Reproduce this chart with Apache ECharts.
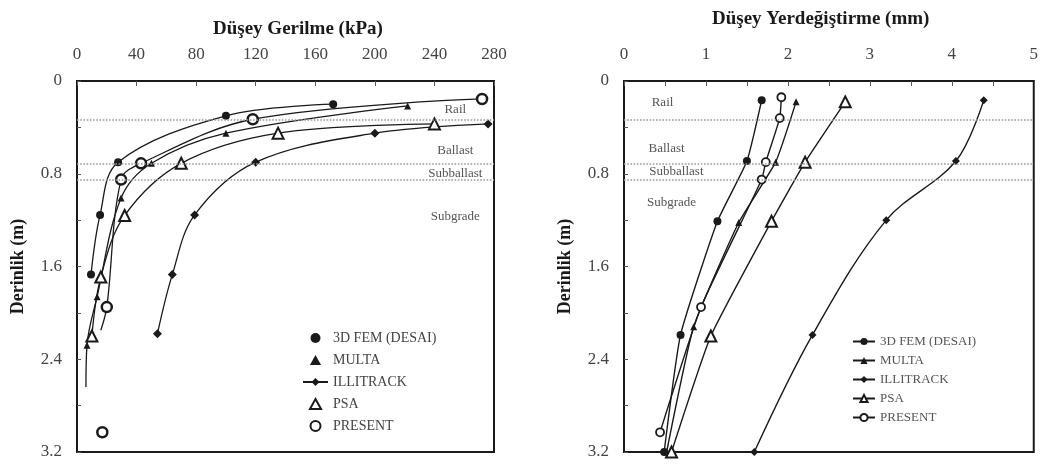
<!DOCTYPE html>
<html>
<head>
<meta charset="utf-8">
<script src="https://cdn.jsdelivr.net/npm/echarts@6/dist/echarts.min.js"></script>
<style>
html,body{margin:0;padding:0;background:#fff;}
#left{position:absolute;left:0;top:0;width:540px;height:465px;}
#right{position:absolute;left:540px;top:0;width:501px;height:465px;}
</style>
</head>
<body>
<div id="left"></div>
<div id="right"></div>
<script>
// ---------- data: left chart (vertical stress, kPa vs depth, m) ----------
var seriesNames = ['3D FEM (DESAI)', 'MULTA', 'ILLITRACK', 'PSA', 'PRESENT'];
var femStress = [[172, 0.20], [100, 0.30], [27.6, 0.70], [15.5, 1.155], [9.4, 1.67]];
var multaStress = [[222, 0.215], [100, 0.45], [50, 0.71], [29.6, 1.01], [13.5, 1.86], [6.7, 2.28]];
var multaStressTail = [6, 2.64];
var illiStress = [[276, 0.37], [200, 0.45], [120, 0.70], [79, 1.155], [64, 1.67], [54, 2.18]];
var psaStress = [[240, 0.37], [135, 0.45], [70, 0.71], [32, 1.16], [16, 1.69], [10, 2.20]];
var presentStress = [[272, 0.155], [118, 0.33], [43, 0.71], [29.6, 0.85], [20, 1.95]];
var presentStressTail = [16, 2.15];
var presentStressIsolated = [17, 3.03];

// ---------- data: right chart (vertical displacement, mm vs depth, m) ----------
var femDisp = [[1.68, 0.165], [1.50, 0.69], [1.14, 1.21], [0.69, 2.19], [0.49, 3.2]];
var multaDisp = [[2.10, 0.18], [1.85, 0.70], [1.40, 1.22], [0.85, 2.12], [0.52, 3.2]];
var illiDisp = [[4.39, 0.165], [4.05, 0.69], [3.20, 1.20], [2.30, 2.19], [1.59, 3.2]];
var psaDisp = [[2.70, 0.18], [2.21, 0.70], [1.80, 1.21], [1.06, 2.20], [0.58, 3.2]];
var presentDisp = [[1.92, 0.14], [1.90, 0.32], [1.73, 0.70], [1.68, 0.85], [0.94, 1.95], [0.44, 3.03]];

// ---------- layers ----------
var layerBoundaries = [0.33, 0.71, 0.85];
var layerNames = ['Rail', 'Ballast', 'Subballast', 'Subgrade'];
var layerLabelDepthsLeft = [0.25, 0.60, 0.80, 1.17];
var layerLabelXLeft = 254;
var layerLabelDepthsRight = [0.19, 0.58, 0.78, 1.05];
var layerLabelXRight = [0.47, 0.52, 0.64, 0.58];

// ---------- axes ----------
var stressTicks = {min: 0, max: 280, interval: 40};
var dispTicks = {min: 0, max: 5, interval: 1};
var depthTicks = {min: 0, max: 3.2, interval: 0.4};

var FONT = '"Liberation Serif", "Times New Roman", serif';
var INK = '#1a1a1a';
var TRI = 'path://M5,0L10,9L0,9Z';

function depthLabel(v) {
  var k = Math.round(v / 0.4);
  if (k % 2 !== 0) return '';
  return v === 0 ? '0' : (Math.round(v * 10) / 10).toFixed(1);
}

function yAxisCfg() {
  return {
    type: 'value', inverse: true,
    min: depthTicks.min, max: depthTicks.max, interval: depthTicks.interval,
    name: 'Derinlik (m)', nameLocation: 'middle', nameRotate: 90, nameGap: 50,
    nameTextStyle: {fontFamily: FONT, fontWeight: 'bold', fontSize: 18, color: INK},
    axisLine: {show: true, lineStyle: {color: INK, width: 2}},
    axisTick: {show: true, inside: true, length: 4, lineStyle: {color: '#555'}},
    axisLabel: {formatter: depthLabel, fontFamily: FONT, fontSize: 17, color: '#444', margin: 15},
    splitLine: {show: false}
  };
}

function openStyle(bw) { return {color: '#fff', borderColor: INK, borderWidth: bw}; }
function fillStyle() { return {color: INK, borderColor: INK, borderWidth: 0}; }

function layerSeries(labelPts) {
  return {
    type: 'line', name: '_layers', data: [], silent: true,
    markLine: {
      silent: true, symbol: 'none',
      lineStyle: {color: '#9a9a9a', type: 'dotted', width: 1.6},
      label: {show: false},
      data: layerBoundaries.map(function (d) { return {yAxis: d}; })
    },
    markPoint: {
      silent: true, symbol: 'circle', symbolSize: 1,
      itemStyle: {color: 'rgba(0,0,0,0)'},
      label: {show: true, position: 'inside', formatter: '{b}', fontFamily: FONT, fontSize: 13, color: '#555'},
      data: labelPts
    }
  };
}

// ================= LEFT CHART =================
var left = echarts.init(document.getElementById('left'), null, {renderer: 'canvas'});
var leftLabelPts = layerNames.map(function (n, i) {
  return {name: n, coord: [layerLabelXLeft, layerLabelDepthsLeft[i]]};
});
var lineL = {color: INK, width: 1.3};
var SM = 0.35;
left.setOption({
  animation: false,
  title: {text: 'Düşey Gerilme (kPa)', left: 208, top: 15,
    textStyle: {fontFamily: FONT, fontWeight: 'bold', fontSize: 19, color: INK}},
  grid: {left: 77, right: 46, top: 81, bottom: 13, show: true, borderColor: INK, borderWidth: 2},
  xAxis: {
    type: 'value', position: 'top',
    min: stressTicks.min, max: stressTicks.max, interval: stressTicks.interval,
    axisLine: {show: true, lineStyle: {color: INK, width: 2}},
    axisTick: {show: true, inside: true, length: 5, lineStyle: {color: '#555'}},
    axisLabel: {fontFamily: FONT, fontSize: 17, color: '#444', margin: 18},
    splitLine: {show: false}
  },
  yAxis: yAxisCfg(),
  legend: {
    orient: 'vertical', left: 297, top: 326, itemGap: 8, itemWidth: 25, itemHeight: 10,
    symbolKeepAspect: true,
    textStyle: {fontFamily: FONT, fontSize: 14, color: '#444'},
    data: [
      {name: seriesNames[0], icon: 'circle'},
      {name: seriesNames[1], icon: TRI},
      {name: seriesNames[2]},
      {name: seriesNames[3], icon: TRI},
      {name: seriesNames[4], icon: 'circle'}
    ]
  },
  series: [
    layerSeries(leftLabelPts),
    {name: seriesNames[0], type: 'line', smooth: SM, data: femStress,
      symbol: 'circle', symbolSize: 8, itemStyle: fillStyle(), lineStyle: lineL},
    {name: seriesNames[1], type: 'line', smooth: SM,
      data: multaStress.concat([{value: multaStressTail, symbol: 'none'}]),
      symbol: 'triangle', symbolSize: 7, itemStyle: fillStyle(), lineStyle: lineL},
    {name: seriesNames[2], type: 'line', smooth: SM, data: illiStress,
      symbol: 'diamond', symbolSize: 9, itemStyle: fillStyle(), lineStyle: lineL},
    {name: seriesNames[3], type: 'line', smooth: SM, data: psaStress,
      symbol: 'triangle', symbolSize: 11, itemStyle: openStyle(2), lineStyle: lineL},
    {name: seriesNames[4], type: 'line', smooth: SM, connectNulls: false,
      data: presentStress.concat([{value: presentStressTail, symbol: 'none'}, '-', presentStressIsolated]),
      symbol: 'circle', symbolSize: 10, itemStyle: openStyle(2.5), lineStyle: lineL}
  ]
});

// ================= RIGHT CHART =================
var right = echarts.init(document.getElementById('right'), null, {renderer: 'canvas'});
var rightLabelPts = layerNames.map(function (n, i) {
  return {name: n, coord: [layerLabelXRight[i], layerLabelDepthsRight[i]]};
});
var lineR = {color: INK, width: 1.4};
right.setOption({
  animation: false,
  title: {text: 'Düşey Yerdeğiştirme (mm)', left: 167, top: 5,
    textStyle: {fontFamily: FONT, fontWeight: 'bold', fontSize: 19, color: INK}},
  grid: {left: 84, right: 5, top: 81, bottom: 13, show: true, borderColor: INK, borderWidth: 2},
  xAxis: {
    type: 'value', position: 'top',
    min: dispTicks.min, max: dispTicks.max, interval: dispTicks.interval,
    axisLine: {show: true, lineStyle: {color: INK, width: 2}},
    axisTick: {show: true, inside: true, length: 5, lineStyle: {color: '#555'}},
    minorTick: {show: true, splitNumber: 2, length: 5, lineStyle: {color: '#555'}},
    axisLabel: {fontFamily: FONT, fontSize: 17, color: '#444', margin: 18},
    splitLine: {show: false}
  },
  yAxis: yAxisCfg(),
  legend: {
    orient: 'vertical', left: 307, top: 330, itemGap: 6, itemWidth: 22, itemHeight: 9,
    textStyle: {fontFamily: FONT, fontSize: 13, color: '#555'},
    data: seriesNames
  },
  series: [
    layerSeries(rightLabelPts),
    {name: seriesNames[0], type: 'line', smooth: 0.15, data: femDisp,
      symbol: 'circle', symbolSize: 8, itemStyle: fillStyle(), lineStyle: lineR},
    {name: seriesNames[1], type: 'line', smooth: 0.15, data: multaDisp,
      symbol: 'triangle', symbolSize: 7, itemStyle: fillStyle(), lineStyle: lineR},
    {name: seriesNames[2], type: 'line', smooth: 0.35, data: illiDisp,
      symbol: 'diamond', symbolSize: 8, itemStyle: fillStyle(), lineStyle: lineR},
    {name: seriesNames[3], type: 'line', smooth: 0.15, data: psaDisp,
      symbol: 'triangle', symbolSize: 11, itemStyle: openStyle(2), lineStyle: lineR},
    {name: seriesNames[4], type: 'line', smooth: 0.15, data: presentDisp,
      symbol: 'circle', symbolSize: 8, itemStyle: openStyle(1.8), lineStyle: lineR}
  ]
});
</script>
</body>
</html>
